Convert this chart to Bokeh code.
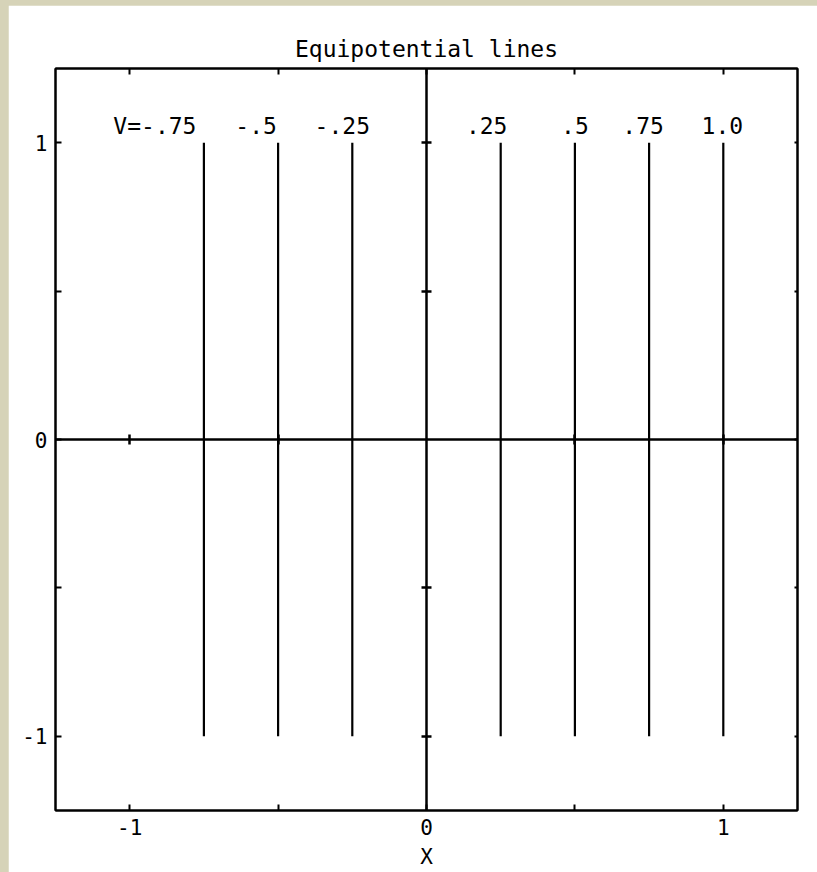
from bokeh.plotting import figure
from bokeh.models import LinearAxis, FixedTicker, Range1d, ColumnDataSource
from bokeh.layouts import column
from bokeh.core.properties import value
from bokeh.embed import file_html
from bokeh.resources import INLINE

# equipotential values and their labels
potentials = [-0.75, -0.5, -0.25, 0.25, 0.5, 0.75, 1.0]
potential_labels = ["V=-.75", "-.5", "-.25", ".25", ".5", ".75", "1.0"]
line_bottom = -1.0
line_top = 1.0

# axis ticks
labeled_ticks = [-1, 0, 1]
tick_labels = ["-1", "0", "1"]
half_ticks = [-0.5, 0.5]
cross_ticks = [-1, -0.5, 0.5, 1]

# horizontal nudges (screen px) for the value labels
label_dx = [-49, -22, -10, -14, 0, -6, -1]

FONT = "DejaVu Sans Mono"
INK = "black"

n = len(potentials)
src = ColumnDataSource(dict(
    x=potentials,
    y0=[line_bottom] * n,
    y1=[line_top] * n,
    label=potential_labels,
    dx=label_dx,
))

p = figure(
    frame_width=742, frame_height=742,
    x_range=Range1d(-1.25, 1.25), y_range=Range1d(-1.25, 1.25),
    x_axis_type=None, y_axis_type=None,
    toolbar_location=None, output_backend="svg",
    min_border_left=47, min_border_right=20,
    min_border_top=63, min_border_bottom=62,
    margin=(5, 0, 0, 8),
    background_fill_color="white", border_fill_color="white",
)
p.xgrid.visible = False
p.ygrid.visible = False
p.outline_line_color = INK
p.outline_line_width = 2

p.title.text = "Equipotential lines"
p.title.align = "center"
p.title.text_font = FONT
p.title.text_font_size = "23px"
p.title.text_font_style = "normal"
p.title.text_color = INK
p.title.standoff = 13


def style_frame_axis(ax, tick_len, labels=True):
    ax.axis_line_color = INK
    ax.axis_line_width = 2
    ax.major_tick_in = tick_len
    ax.major_tick_out = 0
    ax.minor_tick_in = tick_len
    ax.minor_tick_out = 0
    ax.major_tick_line_color = INK
    ax.minor_tick_line_color = INK
    ax.major_tick_line_width = 2
    ax.minor_tick_line_width = 2
    ax.major_label_text_font = FONT
    ax.major_label_text_color = INK
    ax.major_label_text_font_size = "21px"
    if labels:
        ax.major_label_overrides = dict(zip(labeled_ticks, tick_labels))
    else:
        ax.major_label_overrides = {t: "" for t in labeled_ticks}
        ax.major_label_standoff = 0


def frame_ticker():
    return FixedTicker(ticks=labeled_ticks, minor_ticks=half_ticks)


xb = LinearAxis(ticker=frame_ticker(), axis_label="X")
style_frame_axis(xb, 6)
xb.major_label_standoff = 8
xb.axis_label_text_font = FONT
xb.axis_label_text_font_size = "21px"
xb.axis_label_text_font_style = "normal"
xb.axis_label_text_color = INK
xb.axis_label_standoff = 7
p.add_layout(xb, "below")

yl = LinearAxis(ticker=frame_ticker())
style_frame_axis(yl, 6)
yl.major_label_standoff = 8
yl.major_label_orientation = "horizontal"
p.add_layout(yl, "left")

xt = LinearAxis(ticker=frame_ticker())
style_frame_axis(xt, 6, labels=False)
p.add_layout(xt, "above")

yr = LinearAxis(ticker=frame_ticker())
style_frame_axis(yr, 3, labels=False)
p.add_layout(yr, "right")

# coordinate axes through the origin, with crossing ticks
for place in ("below", "left"):
    ax = LinearAxis(fixed_location=0, ticker=FixedTicker(ticks=cross_ticks))
    ax.axis_line_color = INK
    ax.axis_line_width = 2.5
    ax.major_tick_in = 5
    ax.major_tick_out = 5
    ax.major_tick_line_color = INK
    ax.major_tick_line_width = 2.5
    ax.minor_tick_line_color = None
    ax.major_label_overrides = {t: "" for t in cross_ticks}
    p.add_layout(ax, place)

# equipotential lines
p.segment(x0="x", y0="y0", x1="x", y1="y1", source=src,
          line_color=INK, line_width=2.2)

p.text(x="x", y="y1", text="label", source=src,
       x_offset="dx", y_offset=-17,
       text_align="center", text_baseline="alphabetic",
       text_font=value(FONT), text_font_size="23px", text_color=INK)

page = column(p, styles={"background-color": "#d6d3b8"})

with open("out.html", "w") as f:
    f.write(file_html(page, INLINE))
